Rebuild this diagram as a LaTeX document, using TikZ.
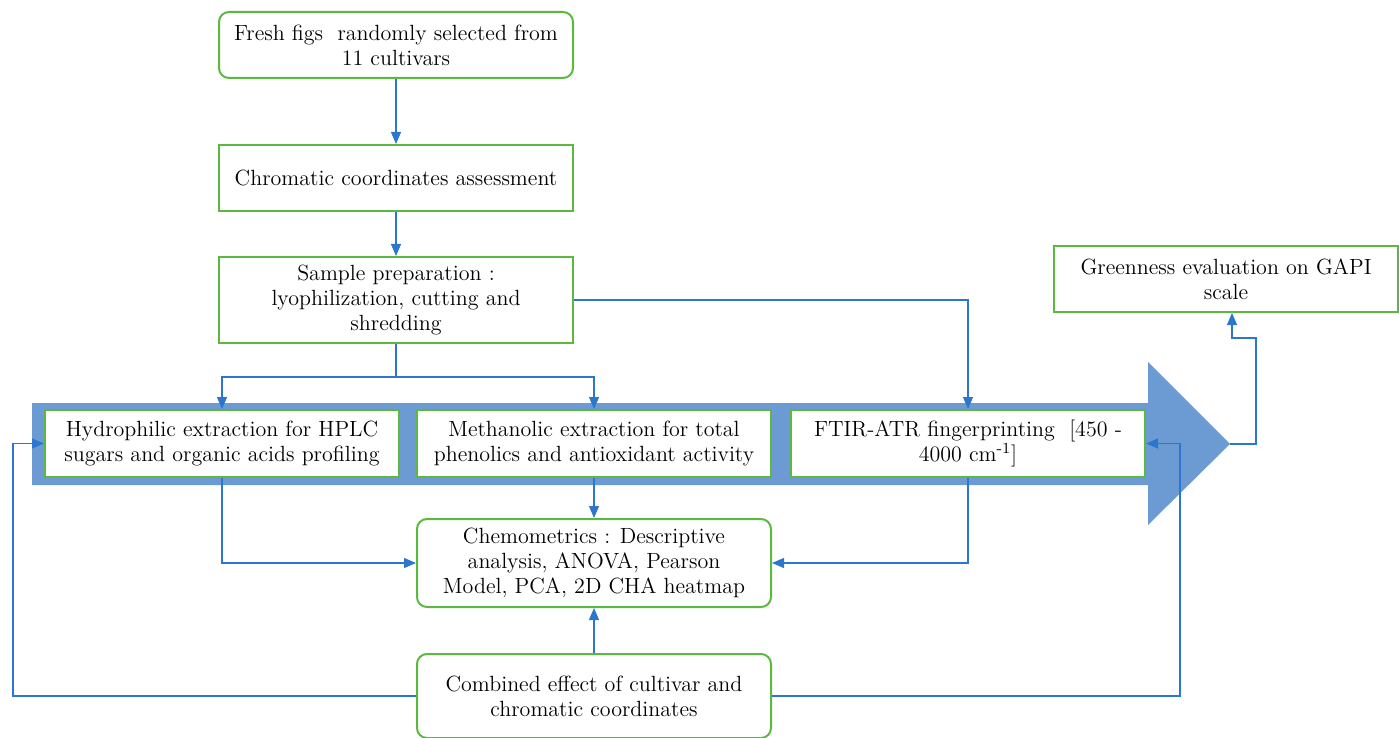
\documentclass[tikz,border=0pt]{standalone}
\usepackage{tikz}
\usetikzlibrary{arrows.meta, positioning, calc}
\definecolor{boxgreen}{RGB}{92,184,62}
\definecolor{linkblue}{RGB}{44,118,208}
\definecolor{bandblue}{RGB}{108,155,212}

\begin{document}
\begin{tikzpicture}[
  x=0.5pt, y=-0.5pt,
  stage/.style={draw=boxgreen, line width=1pt, fill=white, align=center, minimum width=177pt, minimum height=33pt, inner sep=2pt, font=\fontsize{11}{12.5}\selectfont},
  roundstage/.style={stage, rounded corners=5pt},
  link/.style={-{Triangle[length=6pt, width=5pt]}, linkblue, line width=0.55pt}
]
\useasboundingbox (0,0) rectangle (1399,738);

% big band arrow behind the three extraction steps
\fill[bandblue] (32,403) -- (1148,403) -- (1148,362) -- (1230,444) -- (1148,525) -- (1148,485) -- (32,485) -- cycle;
\coordinate (tip) at (1230,444);

\node[roundstage] (fresh) at (396,45) {Fresh figs\ \ randomly selected from\\11 cultivars};
\node[stage, below=32.5pt of fresh] (chroma) {Chromatic coordinates assessment};
\node[stage, below=22pt of chroma, minimum height=43pt] (prep) {Sample preparation :\\lyophilization, cutting and\\shredding};
\node[stage, minimum height=33.5pt] (hydro) at (222,443.5) {Hydrophilic extraction for HPLC\\sugars and organic acids profiling};
\node[stage, minimum height=33.5pt, right=8pt of hydro] (methanol) {Methanolic extraction for total\\phenolics and antioxidant activity};
\node[stage, minimum height=33.5pt, right=9pt of methanol] (ftir) {FTIR-ATR fingerprinting\ \ [450 -\\4000 cm\textsuperscript{-1}]};
\node[roundstage, minimum height=44pt, below=20pt of methanol] (chemo) {Chemometrics : Descriptive\\analysis, ANOVA, Pearson\\Model, PCA, 2D CHA heatmap};
\node[roundstage, minimum height=42pt, below=22.5pt of chemo] (combined) {Combined effect of cultivar and\\chromatic coordinates};
\node[stage, minimum width=172pt] (green) at (1226,279) {Greenness evaluation on GAPI\\scale};

\coordinate (fork) at (396,377);
\coordinate (leftrail) at (13,0);
\coordinate (rightrail) at (1180,0);

\draw[link] (fresh) -- (chroma);
\draw[link] (chroma) -- (prep);
\draw[link] (prep.south) -- (fork) -| (hydro.north);
\draw[link] (fork) -| (methanol.north);
\draw[link] (prep.east) -| (ftir.north);
\draw[link] (hydro.south) |- (chemo.west);
\draw[link] (methanol) -- (chemo);
\draw[link] (ftir.south) |- (chemo.east);
\draw[link] (combined) -- (chemo);
\draw[link] (combined.west) -- (combined.west -| leftrail) |- (hydro.west);
\draw[link] (combined.east) -- (combined.east -| rightrail) |- (ftir.east);
\draw[link] (tip) -- ++(26,0) |- ($(green.south)+(6,25)$) -- ($(green.south)+(6,0)$);
\end{tikzpicture}
\end{document}
